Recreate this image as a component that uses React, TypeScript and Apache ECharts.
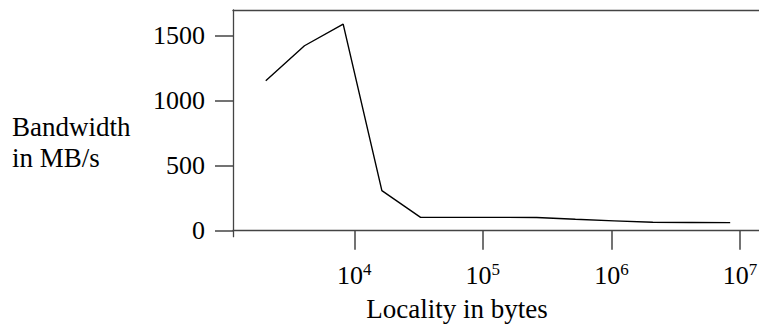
import React, { useEffect, useRef } from "react";
import * as echarts from "echarts";

const localityBytes = [2048, 4096, 8192, 16384, 32768, 65536, 131072, 262144, 524288, 1048576, 2097152, 4194304, 8388608];
const bandwidthMBs = [1154, 1423, 1590, 308, 103, 103, 103, 102, 88, 76, 65, 63, 62];
const xTickValues = [1e4, 1e5, 1e6, 1e7];
const yTickValues = [0, 500, 1000, 1500];
const yAxisTitle = "Bandwidth\nin MB/s";
const xAxisTitle = "Locality in bytes";

const FONT = "Liberation Serif";
const AXIS_COLOR = "#444";

export default function App() {
  const ref = useRef<HTMLDivElement>(null);
  useEffect(() => {
    const chart = echarts.init(ref.current!, null, { renderer: "svg" });
    const data = localityBytes.map((x, i) => [x, bandwidthMBs[i]]);
    chart.setOption({
      animation: false,
      title: {
        text: yAxisTitle,
        left: 12,
        top: 111,
        padding: 0,
        textStyle: { fontFamily: FONT, fontSize: 27, fontWeight: "normal", color: "#000", lineHeight: 31 },
      },
      grid: { left: 233, top: 10, right: 0, bottom: 88.3, containLabel: false, outerBoundsMode: "none" },
      xAxis: [
        {
          type: "log",
          position: "bottom",
          min: 1139,
          max: 1.405e7,
          name: xAxisTitle,
          nameLocation: "middle",
          nameGap: 59,
          nameTextStyle: { fontFamily: FONT, fontSize: 27, color: "#000", padding: [0, 78, 0, 0], verticalAlign: "top" },
          axisLine: { show: true, lineStyle: { color: AXIS_COLOR, width: 1.3 } },
          axisTick: { show: true, inside: false, length: 19, customValues: xTickValues, lineStyle: { color: AXIS_COLOR, width: 1.5 } },
          minorTick: { show: false },
          splitLine: { show: false },
          axisLabel: {
            customValues: xTickValues,
            margin: 24,
            formatter: (v: number) => `{b|10}{s|${Math.round(Math.log10(v))}}`,
            rich: {
              b: { fontFamily: FONT, fontSize: 26, color: "#000", lineHeight: 30 },
              s: { fontFamily: FONT, fontSize: 17, color: "#000", lineHeight: 22, verticalAlign: "top" },
            },
          },
        },
        {
          type: "log",
          position: "top",
          min: 1139,
          max: 1.405e7,
          axisLine: { show: true, lineStyle: { color: AXIS_COLOR, width: 1.3 } },
          axisTick: { show: false },
          axisLabel: { show: false },
          splitLine: { show: false },
        },
      ],
      yAxis: {
        type: "value",
        min: -46,
        max: 1698,
        axisLine: { show: true, lineStyle: { color: AXIS_COLOR, width: 1.3 } },
        axisTick: { show: true, inside: false, length: 18, customValues: yTickValues, lineStyle: { color: AXIS_COLOR, width: 1.5 } },
        splitLine: { show: false },
        axisLabel: {
          customValues: yTickValues,
          margin: 28,
          formatter: (v: number) => String(v),
          fontFamily: FONT,
          fontSize: 26,
          color: "#000",
          padding: [3, 0, 0, 0],
        },
      },
      series: [
        {
          type: "line",
          xAxisIndex: 0,
          data,
          showSymbol: false,
          symbol: "none",
          lineStyle: { color: "#000", width: 1.4 },
        },
      ],
    });
    return () => chart.dispose();
  }, []);
  return <div ref={ref} style={{ position: "absolute", left: 0, top: 0, width: 759, height: 325 }} />;
}
